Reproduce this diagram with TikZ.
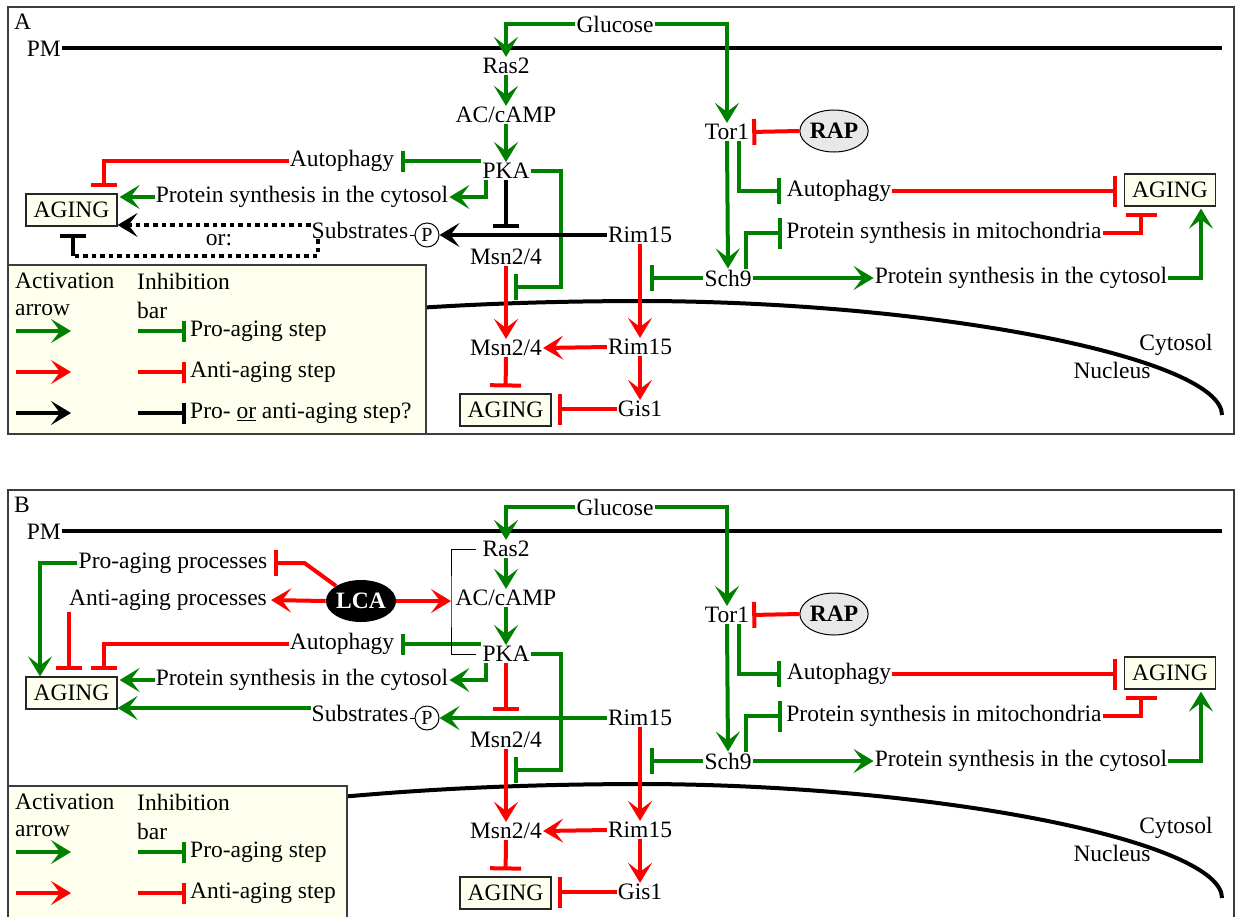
\documentclass[tikz,border=0pt]{standalone}
\usepackage{fontspec}
\setmainfont{Liberation Serif}
\usepackage{xcolor}
\definecolor{pgreen}{RGB}{0,128,0}
\definecolor{pred}{RGB}{255,0,0}
\definecolor{agefill}{RGB}{255,255,238}
\definecolor{rapgray}{RGB}{232,232,232}
\definecolor{framegray}{RGB}{60,60,60}
\usetikzlibrary{arrows.meta, shapes.geometric, calc}

\newcommand{\dfont}{\fontsize{23.5}{28}\selectfont}

\tikzset{
  act/.style={draw=#1, line width=4pt, -{Stealth[length=20pt, width=24pt, inset=9pt]}},
  inh/.style={draw=#1, line width=4pt, -{Bar[width=26pt]}},
  widebar/.style={-{Bar[width=31pt]}},
  slimbar/.style={-{Bar[width=21pt]}},
  dotline/.style={dash pattern=on 4.5pt off 4pt},
  agebox/.style={draw=black!85, fill=agefill, line width=1.2pt, minimum width=91pt, minimum height=32pt, inner sep=0pt},
  framebox/.style={draw=framegray, line width=1.5pt},
  legbox/.style={draw=framegray, fill=agefill, line width=1.2pt},
  membrane/.style={line width=4pt}
}

% nodes and links that both panels share
\newcommand{\cellcore}{%
  % plasma membrane
  \node[anchor=east] (pm) at (62,49) {PM};
  \coordinate (pmend) at (1222,48);
  \draw[membrane] (pm.east |- pmend) -- (pmend);
  % nucleus border
  \draw[membrane] (340,314) .. controls (450,304) and (550,301) .. (650,301)
        .. controls (950,303) and (1222,360) .. (1222,415);
  \node (cyt) at (1176,345) {Cytosol};
  \node (nuc) at (1112,370) {Nucleus};
  % Ras / PKA branch
  \node (glu) at (615,24) {Glucose};
  \node (ras) at (506,66) {Ras2};
  \node (ac) at (506,115) {AC/cAMP};
  \node (pka) at (506,171) {PKA};
  \node (autoL) at (342,161) {Autophagy};
  \node (pscL) at (302,197) {Protein synthesis in the cytosol};
  \node[agebox] (agingL) at (71.5,210) {AGING};
  \node (subs) at (360,230) {Substrates};
  \node[draw, circle, line width=1pt, minimum size=24pt, inner sep=0pt,
        font=\fontsize{20}{24}\selectfont] (pc) at (427,235) {P};
  \node (rimC) at (640,235) {Rim15};
  \node (msnC) at (506,257) {Msn2/4};
  \node (msnN) at (506,348) {Msn2/4};
  \node (rimN) at (640,347) {Rim15};
  \node (gis) at (640,409) {Gis1};
  \node[agebox] (agingN) at (505.5,410) {AGING};
  % Tor / Sch9 branch
  \node (tor) at (727,132) {Tor1};
  \node[ellipse, draw, fill=rapgray, line width=1pt, minimum width=64pt, minimum height=42pt,
        inner sep=0pt, font=\dfont\bfseries] (rap) at (834,131) {RAP};
  \node (autoR) at (839,191) {Autophagy};
  \node[agebox] (agingR) at (1170,190) {AGING};
  \node (psm) at (944,233) {Protein synthesis in mitochondria};
  \node (sch) at (728,278) {Sch9};
  \node (pscR) at (1021,278) {Protein synthesis in the cytosol};
  % links of the Ras / PKA branch
  \draw[act=pgreen] (glu.west) -| (ras.north);
  \draw[act=pgreen] (ras.south) -- (ac.north);
  \draw[act=pgreen] (ac.south) -- (pka.north);
  \draw[inh=pgreen, slimbar, shorten >=6pt] (autoL.east -| pka.west) -- (autoL.east);
  \draw[act=pgreen] ([xshift=5pt]pka.south west) |- (pscL.east);
  \draw[act=pgreen, shorten >=2pt] (pscL.west) -- (pscL.west -| agingL.east);
  \draw[inh=pred, shorten >=6pt] (autoL.west) -| ([xshift=32.5pt]agingL.north);
  \coordinate (mtr) at (506,287);
  \draw[inh=pgreen, shorten >=8pt] (pka.east) -| ($(mtr)+(55,0)$) -- (mtr);
  \draw[thin] (pc.west) -- (pc.west -| subs.east);
  \draw[act=pred] (msnC.south) -- (msnN.north);
  \draw[act=pred] (rimC.south) -- (rimN.north);
  \draw[act=pred] (rimN.west) -- (msnN.east);
  \draw[act=pred] (rimN.south) -- (gis.north);
  \draw[inh=pred, widebar, shorten >=6pt] (msnN.south) -- (agingN.north);
  \draw[inh=pred, widebar, shorten >=6pt] (gis.west) -- (gis.west -| agingN.east);
  % links of the Tor / Sch9 branch
  \draw[act=pgreen] (glu.east) -| (tor.north);
  \draw[inh=pred, shorten >=2pt] (rap.west) -- (tor.east);
  \draw[act=pgreen] (tor.south) -- (sch.north);
  \draw[inh=pgreen, shorten >=5pt] ([xshift=12pt]tor.south) |- (autoR.west);
  \draw[inh=pred, widebar, shorten >=7pt] (autoR.east) -- (autoR.east -| agingR.west);
  \draw[inh=pgreen, widebar, shorten >=3pt] ([xshift=18pt]sch.north) |- (psm.west);
  \draw[inh=pred, widebar, shorten >=6pt] (psm.east) -| ([xshift=-29pt]agingR.south);
  \draw[act=pgreen] (sch.east) -- (pscR.west);
  \draw[act=pgreen, shorten >=2pt] (pscR.east) -| ([xshift=31pt]agingR.south);
  \coordinate (rtr) at (rimC.south |- sch.west);
  \draw[inh=pgreen, shorten >=10pt] (sch.west) -- (rtr);
}

\begin{document}
\begin{tikzpicture}[x=1pt, y=-1pt, every node/.append style={font=\dfont, inner sep=1pt}]
  \clip (0,0) rectangle (1236,916);
  \fill[white] (0,0) rectangle (1236,916);

  % Panel A
  \begin{scope}[name prefix=A-]
    \draw[framebox] (8,7) rectangle (1234,434);
    \node[anchor=west] (tag) at (13,22) {A};
    \cellcore
    % substrates: pro- or anti-aging?
    \draw[act=black, dotline] ([yshift=5pt]subs.west) -- ([yshift=5pt]subs.west -| agingL.east);
    \coordinate (orc) at (73,256);
    \draw[black, line width=4pt, dotline] ([xshift=7pt]subs.south west) |- (orc);
    \draw[inh=black, shorten >=7pt] (orc) -- (orc |- agingL.south);
    \node (orlbl) at (219,240) {or:};
    \draw[inh=black, shorten >=20pt] (pka.south) -- (msnC.north);
    \draw[act=black] (rimC.west) -- (pc.east);
    % legend
    \draw[legbox] (8,265) rectangle (426,434);
    \node[anchor=west] (actT) at (14,281) {Activation};
    \node[anchor=west] (inhT) at (136,281) {Inhibition};
    \node[anchor=west] (arrT) at (14,310) {arrow};
    \node[anchor=west] (barT) at (136,310) {bar};
    \foreach \c/\y/\t in {pgreen/331/Pro-aging step, pred/372/Anti-aging step,
                          black/413/{Pro- \underline{or} anti-aging step?}}{
      \draw[act=\c] (16,\y) -- (71,\y);
      \draw[inh=\c, slimbar] (138,\y) -- (186,\y);
      \node[anchor=west] (key\y) at (189,\y) {\t};
    }
  \end{scope}

  % Panel B
  \begin{scope}[name prefix=B-, shift={(0,483)}]
    \draw[framebox] (8,7) rectangle (1234,470);
    \node[anchor=west] (tag) at (13,22) {B};
    \cellcore
    % LCA
    \node (proP) at (173,80) {Pro-aging processes};
    \node (antiP) at (168,117) {Anti-aging processes};
    \node[ellipse, fill=black, text=white, minimum width=66pt, minimum height=42pt,
          inner sep=0pt, font=\dfont\bfseries] (lca) at (361,118) {LCA};
    \coordinate (grp) at (451,118);
    \draw[line width=1pt] ([xshift=-5pt]ras.west) -| (grp) |- ([xshift=-5pt]pka.west);
    \draw[inh=pred, shorten >=5pt] (lca.north west) -- ([xshift=36pt]proP.east) -- (proP.east);
    \draw[act=pred, shorten >=3pt] (lca.west) -- (antiP.east);
    \draw[act=pred] (lca.east) -- (grp);
    \draw[act=pgreen] (proP.west) -| ([xshift=-31.5pt]agingL.north);
    \draw[inh=pred, shorten >=6pt] ([xshift=-2.5pt]agingL.north |- antiP.south) -- ([xshift=-2.5pt]agingL.north);
    % substrates
    \draw[act=pgreen] ([yshift=5pt]subs.west) -- ([yshift=5pt]subs.west -| agingL.east);
    \draw[inh=pred, shorten >=20pt] (pka.south) -- (msnC.north);
    \draw[act=pgreen] (rimC.west) -- (pc.east);
    % legend
    \begin{scope}[shift={(0,38)}]
      \draw[legbox] (8,265) rectangle (347,480);
      \node[anchor=west] (actT) at (14,281) {Activation};
      \node[anchor=west] (inhT) at (136,281) {Inhibition};
      \node[anchor=west] (arrT) at (14,310) {arrow};
      \node[anchor=west] (barT) at (136,310) {bar};
      \foreach \c/\y/\t in {pgreen/331/Pro-aging step, pred/372/Anti-aging step}{
        \draw[act=\c] (16,\y) -- (71,\y);
        \draw[inh=\c, slimbar] (138,\y) -- (186,\y);
        \node[anchor=west] (key\y) at (189,\y) {\t};
      }
    \end{scope}
  \end{scope}
\end{tikzpicture}
\end{document}
